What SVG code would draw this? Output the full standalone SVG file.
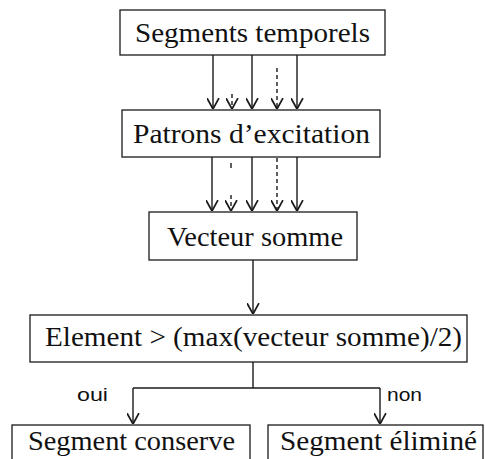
<svg xmlns="http://www.w3.org/2000/svg" width="485" height="459" viewBox="0 0 485 459">
  <style>
    .box { fill: #ffffff; stroke: #1a1a1a; stroke-width: 1.3; }
    .lbl { font-family: 'Liberation Serif', 'Times New Roman', serif; font-size: 28px; fill: #111111; }
    .tag { font-family: 'Liberation Sans', Arial, sans-serif; font-size: 18px; fill: #111111; }
    .wire { fill: none; stroke: #1a1a1a; stroke-width: 1.4; }
    .dash { fill: none; stroke: #1a1a1a; stroke-width: 1.4; stroke-dasharray: 4 3; }
  </style>
  <defs>
    <marker id="arrow" viewBox="0 0 10 12" refX="10" refY="6" markerWidth="11" markerHeight="13" markerUnits="userSpaceOnUse" orient="auto">
      <path d="M0,0.5 L10,6 L0,11.5" fill="none" stroke="#1a1a1a" stroke-width="1.6"/>
    </marker>
  </defs>

  <rect width="485" height="459" fill="#ffffff"/>

  <g id="n-segments">
    <rect class="box" x="120" y="10" width="265" height="45"/>
    <text class="lbl" x="135" y="42" textLength="235" lengthAdjust="spacingAndGlyphs">Segments temporels</text>
  </g>

  <g id="n-patrons">
    <rect class="box" x="122" y="110" width="258" height="47"/>
    <text class="lbl" x="133" y="143" textLength="237" lengthAdjust="spacingAndGlyphs">Patrons d’excitation</text>
  </g>

  <g id="n-vecteur">
    <rect class="box" x="149" y="212" width="208" height="48"/>
    <text class="lbl" x="167" y="246" textLength="176" lengthAdjust="spacingAndGlyphs">Vecteur somme</text>
  </g>

  <g id="n-element">
    <rect class="box" x="30" y="315" width="437" height="47"/>
    <text class="lbl" x="45" y="346" textLength="417" lengthAdjust="spacingAndGlyphs">Element &gt; (max(vecteur somme)/2)</text>
  </g>

  <g id="n-conserve">
    <rect class="box" x="12" y="425" width="238" height="50"/>
    <text class="lbl" x="28" y="450" textLength="207" lengthAdjust="spacingAndGlyphs">Segment conserve</text>
  </g>

  <g id="n-elimine">
    <rect class="box" x="268" y="425" width="215" height="50"/>
    <text class="lbl" x="280" y="450" textLength="197" lengthAdjust="spacingAndGlyphs">Segment éliminé</text>
  </g>

  <g id="connectors">
    <!-- Segments temporels to Patrons d'excitation -->
    <path class="wire" d="M213,55 V109" marker-end="url(#arrow)"/>
    <path class="dash" d="M232,94 V109" marker-end="url(#arrow)"/>
    <path class="wire" d="M252,55 V109" marker-end="url(#arrow)"/>
    <path class="dash" d="M277,68 V109" marker-end="url(#arrow)"/>
    <path class="wire" d="M297,55 V109" marker-end="url(#arrow)"/>

    <!-- Patrons d'excitation to Vecteur somme -->
    <path class="wire" d="M212,157 V211" marker-end="url(#arrow)"/>
    <path class="wire" d="M231,163 V168"/>
    <path class="dash" d="M231,195 V211" marker-end="url(#arrow)"/>
    <path class="wire" d="M252,157 V211" marker-end="url(#arrow)"/>
    <path class="dash" d="M277,158 V211" marker-end="url(#arrow)"/>
    <path class="wire" d="M297,157 V211" marker-end="url(#arrow)"/>

    <!-- Vecteur somme to test -->
    <path class="wire" d="M253,260 V314" marker-end="url(#arrow)"/>

    <!-- test branches -->
    <path class="wire" d="M253,362 V388"/>
    <path class="wire" d="M133,388 H380"/>
    <path class="wire" d="M133,388 V424" marker-end="url(#arrow)"/>
    <path class="wire" d="M380,388 V424" marker-end="url(#arrow)"/>
    <text class="tag" x="77" y="401" textLength="31" lengthAdjust="spacingAndGlyphs">oui</text>
    <text class="tag" x="387" y="401" textLength="35" lengthAdjust="spacingAndGlyphs">non</text>
  </g>
</svg>
